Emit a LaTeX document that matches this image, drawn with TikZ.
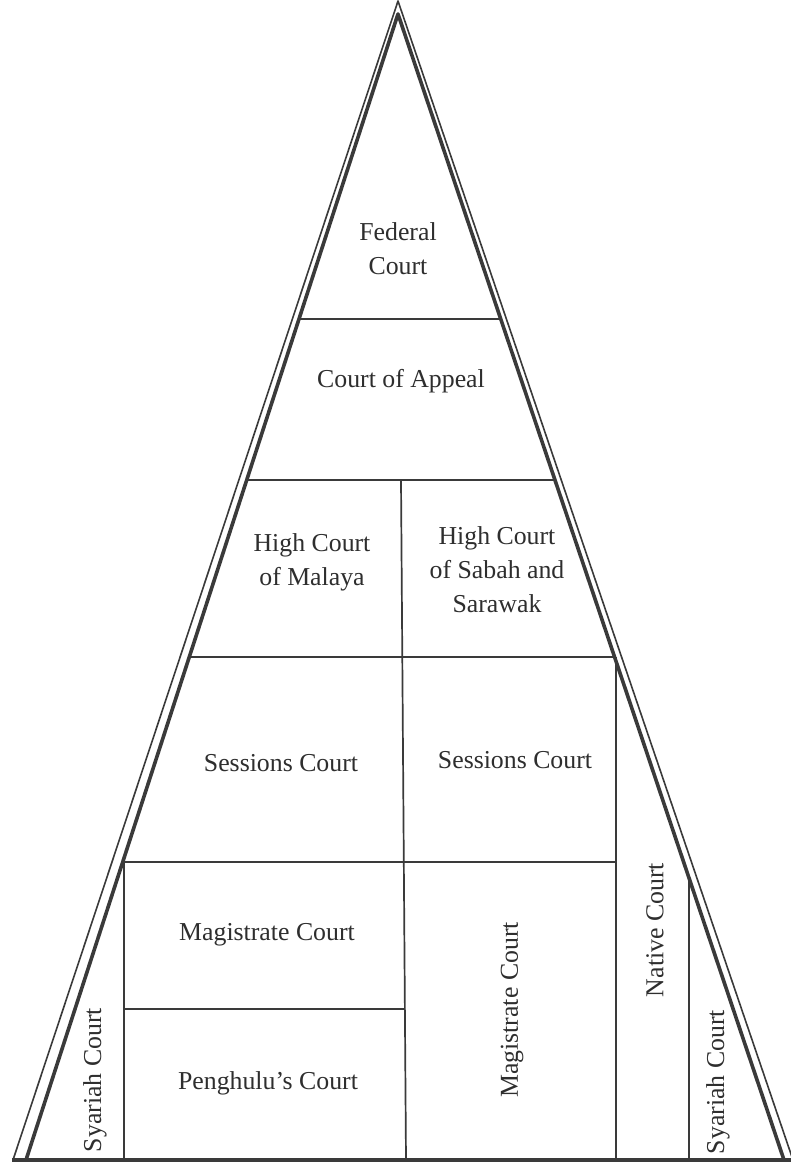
\documentclass[tikz,border=0pt]{standalone}
\usepackage{fontspec}
\setmainfont{Liberation Serif}
\definecolor{linec}{HTML}{3A3A3A}
\definecolor{textc}{HTML}{2E2E2E}
\begin{document}
\begin{tikzpicture}[x=1pt,y=-1pt,
  cell/.style={draw=linec, line width=1.7pt},
  lbl/.style={text=textc, font=\fontsize{25.8}{34}\selectfont, align=center, inner sep=0pt},
  vlbl/.style={lbl, rotate=90}]
\useasboundingbox (0,0) rectangle (791,1165);
\fill[white] (0,0) rectangle (791,1165);
% triangle
\coordinate (Ai) at (398,14);
\coordinate (Li) at (26,1160);
\coordinate (Ri) at (784,1160);
\coordinate (Ao) at (398,1);
\coordinate (Lo) at (13,1160);
\coordinate (Ro) at (793,1160);
% interior lines
\draw[cell] (intersection of Ai--Li and 0,319--10,319) -- (intersection of Ai--Ri and 0,319--10,319);
\draw[cell] (intersection of Ai--Li and 0,480--10,480) -- (intersection of Ai--Ri and 0,480--10,480);
\draw[cell] (intersection of Ai--Li and 0,657--10,657) -- (intersection of Ai--Ri and 0,657--10,657);
\draw[cell] (intersection of Ai--Li and 0,862--10,862) -- (616,862);
\draw[cell] (124,1009) -- (405,1009);
\draw[cell] (401,480) -- (406,1160);
\draw[cell] (616,657) -- (616,1160);
\draw[cell] (intersection of Ai--Ri and 689,0--689,10) -- (689,1160);
\draw[cell] (intersection of Ai--Li and 124,0--124,10) -- (124,1160);
% triangle edges
\draw[linec, line width=3.6pt, line join=round] (Li) -- (Ai) -- (Ri);
\draw[linec, line width=1.6pt, line join=round] (Lo) -- (Ao) -- (Ro);
\draw[linec, line width=4pt] (12,1160) -- (791,1160);
% labels
\node[lbl] (fed) at (398,249) {Federal\\Court};
\node[lbl] (coa) at (401,381) {Court of Appeal};
\node[lbl] (hcm) at (312,562) {High Court\\of Malaya};
\node[lbl] (hcs) at (497,570) {High Court\\of Sabah and\\Sarawak};
\node[lbl] (sc1) at (281,763) {Sessions Court};
\node[lbl] (sc2) at (515,760) {Sessions Court};
\node[lbl] (mc1) at (267,935) {Magistrate Court};
\node[lbl] (pc) at (268,1083) {Penghulu's Court};
\node[vlbl] (mc2) at (512,1010) {Magistrate Court};
\node[vlbl] (nc) at (655,930) {Native Court};
\node[vlbl] (sy1) at (95,1080) {Syariah Court};
\node[vlbl] (sy2) at (718,1082) {Syariah Court};
\end{tikzpicture}
\end{document}
